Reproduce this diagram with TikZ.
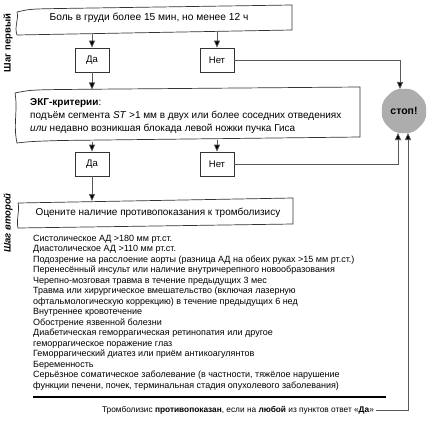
\documentclass[tikz,border=0pt]{standalone}
\usepackage{fontspec}
\setmainfont{Liberation Sans}
\usetikzlibrary{arrows.meta,shapes.geometric}

\begin{document}
\begin{tikzpicture}[x=1pt,y=-1pt,
    frame/.style={draw=black!80,line width=0.7pt},
    answer/.style={draw=black!80,line width=0.7pt,minimum width=34pt,minimum height=24pt,inner sep=0pt,font=\fontsize{9.5}{11}\selectfont},
    link/.style={draw=black!65,line width=0.7pt,-{Triangle[width=6pt,length=7pt,fill=black]}},
    steplabel/.style={rotate=90,font=\fontsize{9.5}{11}\selectfont\bfseries}]
    \useasboundingbox (0,0) rectangle (433,425);
    % step one
    \node[steplabel] (step1) at (8,43) {Шаг первый};
    \draw[frame] (17,12) .. controls (30,9) .. (60,8.5) -- (292,5) -- (292,30) -- (17,35) .. controls (14,27) and (19,19) .. (17,12);
    \node[font=\fontsize{10.2}{12}\selectfont] (q1) at (149,18) {Боль в груди более 15 мин, но менее 12 ч};
    \coordinate (q1da) at (92,34);
    \coordinate (q1net) at (217,31);
    \node[answer] (da1) at (92,60) {Да};
    \node[answer] (net1) at (217,60) {Нет};
    \draw[link] (q1da) -- (da1);
    \draw[link] (q1net) -- (net1);
    % stop sign
    \node[regular polygon,regular polygon sides=8,minimum size=48pt,inner sep=0pt,fill=black!32,rounded corners=6pt,font=\fontsize{10.5}{12}\selectfont\bfseries] (stop) at (404,111) {стоп!};
    \coordinate (s0) at (400,89);
    \coordinate (s1) at (398,133);
    \coordinate (s2) at (408,133);
    \draw[link] (net1.east) -- (net1.east -| s0) -- (s0);
    % ecg criteria
    \draw[frame] (15,93) .. controls (30,90) .. (60,89.5) -- (360,87) -- (360,137) -- (60,140.5) .. controls (30,141.5) .. (17,143) .. controls (13,125) and (18,110) .. (15,93);
    \coordinate (ekgin) at (92,89.5);
    \draw[link] (da1) -- (ekgin);
    \node[anchor=north west,align=left,inner sep=0pt,font=\fontsize{10}{13}\selectfont] (ekg) at (30,98) {\textbf{ЭКГ-критерии}:\\
    подъём сегмента \textit{ST} >1 мм в двух или более соседних отведениях\\
    \textit{или} недавно возникшая блокада левой ножки пучка Гиса};
    \coordinate (ekgda) at (92,142);
    \coordinate (ekgnet) at (217,139.5);
    \node[answer] (da2) at (92,164) {Да};
    \node[answer] (net2) at (217,164) {Нет};
    \draw[link] (ekgda) -- (da2);
    \draw[link] (ekgnet) -- (net2);
    \draw[link] (net2.east) -- (net2.east -| s1) -- (s1);
    % step two
    \node[steplabel,font=\fontsize{9.5}{11}\selectfont\bfseries\itshape] (step2) at (8,223) {Шаг второй};
    \draw[frame] (18,203) -- (293,198) -- (293,224) -- (18,228) .. controls (16,220) and (20,210) .. (18,203);
    \coordinate (q3in) at (92,201);
    \draw[link] (da2) -- (q3in);
    \node[font=\fontsize{10}{12}\selectfont] (q3) at (158,213) {Оцените наличие противопоказания к тромболизису};
    \node[anchor=north west,align=left,inner sep=0pt,font=\fontsize{9}{10.5}\selectfont] (contra) at (33,235) {Систолическое АД >180 мм рт.ст.\\
    Диастолическое АД >110 мм рт.ст.\\
    Подозрение на расслоение аорты (разница АД на обеих руках >15 мм рт.ст.)\\
    Перенесённый инсульт или наличие внутричерепного новообразования\\
    Черепно-мозговая травма в течение предыдущих 3 мес\\
    Травма или хирургическое вмешательство (включая лазерную\\
    офтальмологическую коррекцию) в течение предыдущих 6 нед\\
    Внутреннее кровотечение\\
    Обострение язвенной болезни\\
    Диабетическая геморрагическая ретинопатия или другое\\
    геморрагическое поражение глаз\\
    Геморрагический диатез или приём антикоагулянтов\\
    Беременность\\
    Серьёзное соматическое заболевание (в частности, тяжёлое нарушение\\
    функции печени, почек, терминальная стадия опухолевого заболевания)};
    \draw[line width=1.5pt] (33,397) -- (386,397);
    \node[font=\fontsize{8.3}{10}\selectfont,inner sep=2pt] (verdict) at (238,410) {Тромболизис \textbf{противопоказан}, если на \textbf{любой} из пунктов ответ «\textbf{Да}»};
    \draw[link] (verdict.east) -- (verdict.east -| s2) -- (s2);
\end{tikzpicture}
\end{document}
